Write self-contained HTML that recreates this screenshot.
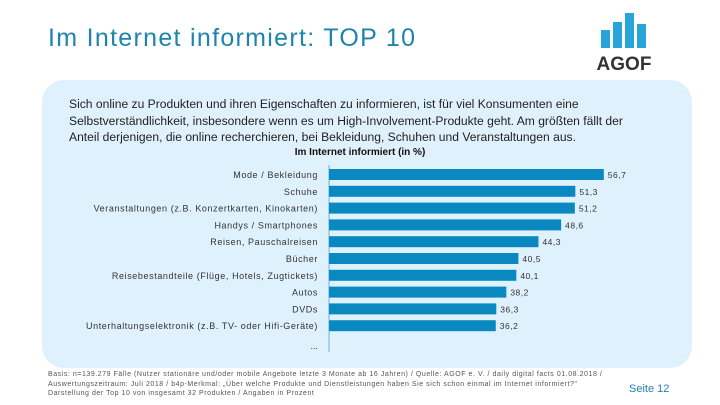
<!DOCTYPE html>
<html><head><meta charset="utf-8"><style>
body{margin:0;width:720px;height:405px;background:#fff;position:relative;overflow:hidden;font-family:"Liberation Sans",sans-serif}
.abs{position:absolute}
</style></head><body>
<div class="abs" style="left:48px;top:24px;font-size:25px;color:#1f84ad;letter-spacing:1.3px">Im Internet informiert: TOP 10</div>
<svg class="abs" style="left:596px;top:10px" width="60" height="62">
<rect x="5" y="20" width="9" height="18" fill="#27a4d8"/><rect x="17" y="12" width="9" height="26" fill="#27a4d8"/><rect x="29" y="3" width="9" height="35" fill="#27a4d8"/><rect x="41" y="14" width="9" height="24" fill="#27a4d8"/>
<text x="28" y="60" text-anchor="middle" font-size="19" font-weight="bold" fill="#333" font-family="Liberation Sans">AGOF</text></svg>
<div class="abs" style="left:42px;top:80px;width:650px;height:288px;background:#dff1fc;border-radius:22px"></div>
<div class="abs" style="left:69px;top:96px;width:570px;font-size:12.1px;line-height:16.5px;color:#222">Sich online zu Produkten und ihren Eigenschaften zu informieren, ist für viel Konsumenten eine Selbstverständlichkeit, insbesondere wenn es um High-Involvement-Produkte geht. Am größten fällt der Anteil derjenigen, die online recherchieren, bei Bekleidung, Schuhen und Veranstaltungen aus.</div>
<div class="abs" style="left:0;width:720px;top:147px;text-align:center;font-size:10px;font-weight:bold;color:#111">Im Internet informiert (in %)</div>
<svg class="abs" id="chart" style="left:0;top:0" width="720" height="405"></svg>
<div class="abs" style="left:48px;top:370px;font-size:7px;line-height:9.5px;color:#555;letter-spacing:0.55px">Basis: n=139.279 Fälle (Nutzer stationäre und/oder mobile Angebote letzte 3 Monate ab 16 Jahren) / Quelle: AGOF e. V. / daily digital facts 01.08.2018 /<br>Auswertungszeitraum: Juli 2018 / b4p-Merkmal: „Über welche Produkte und Dienstleistungen haben Sie sich schon einmal im Internet informiert?"<br>Darstellung der Top 10 von insgesamt 32 Produkten / Angaben in Prozent</div>
<div class="abs" style="left:629px;top:383px;font-size:11px;color:#1f84ad">Seite 12</div>
<script>
const categories=["Mode / Bekleidung","Schuhe","Veranstaltungen (z.B. Konzertkarten, Kinokarten)","Handys / Smartphones","Reisen, Pauschalreisen","Bücher","Reisebestandteile (Flüge, Hotels, Zugtickets)","Autos","DVDs","Unterhaltungselektronik (z.B. TV- oder Hifi-Geräte)"];
const values=[56.7,51.3,51.2,48.6,44.3,40.5,40.1,38.2,36.3,36.2];
const labels=["56,7","51,3","51,2","48,6","44,3","40,5","40,1","38,2","36,3","36,2"];
const svg=document.getElementById('chart');const NS='http://www.w3.org/2000/svg';
const axisX=329;
function xs(v){return 305+v*5.27;}
function ys(i){return 169+i*16.8;}
function mk(t,a){const e=document.createElementNS(NS,t);for(const k in a)e.setAttribute(k,a[k]);svg.appendChild(e);return e;}
const ax=mk('line',{x1:axisX,x2:axisX,y1:165,y2:352,stroke:'#8fcbe6','stroke-width':1.5});


categories.forEach((c,i)=>{
const r=mk('rect',{x:axisX,y:ys(i),width:Math.max(0,xs(values[i])-axisX),height:11,fill:'#0a89c0'});


const l=mk('text',{x:318,y:ys(i)+9,'text-anchor':'end','font-size':9,'letter-spacing':0.6,fill:'#333','font-family':'Liberation Sans'});l.textContent=c;


const v=mk('text',{x:xs(values[i])+4,y:ys(i)+9,'font-size':8.5,'letter-spacing':0.5,fill:'#333','font-family':'Liberation Sans'});v.textContent=labels[i];


});
const d=mk('text',{x:318,y:349,'text-anchor':'end','font-size':9,fill:'#333'});d.textContent='...';


</script>
</body></html>
